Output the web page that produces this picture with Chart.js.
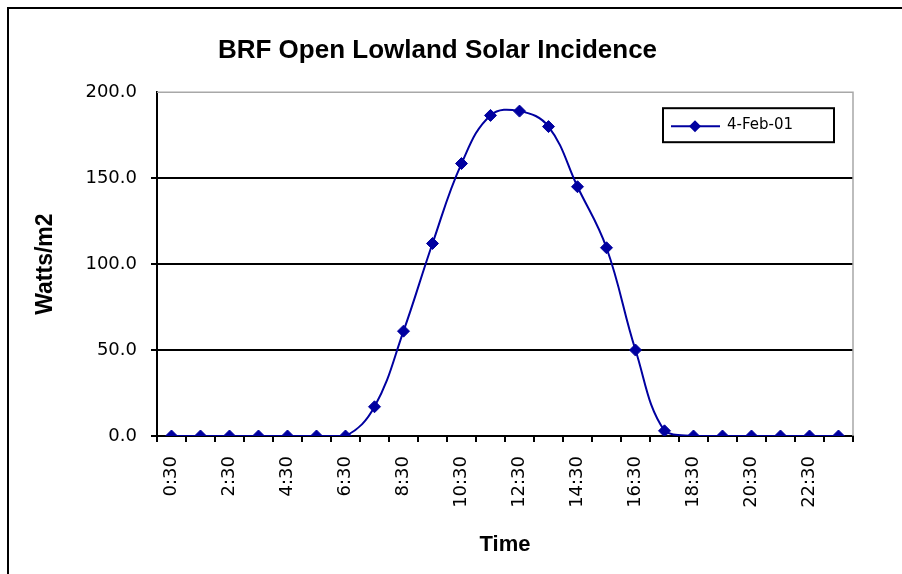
<!DOCTYPE html>
<html>
<head>
<meta charset="utf-8">
<script src="https://cdn.jsdelivr.net/npm/chart.js@4/dist/chart.umd.min.js"></script>
<style>
html,body{margin:0;padding:0;background:#fff;}
#wrap{width:902px;height:574px;}
</style>
</head>
<body>
<div id="wrap"><canvas id="c" width="902" height="574"></canvas></div>
<script>
const categories = ["0:30","1:30","2:30","3:30","4:30","5:30","6:30","7:30","8:30","9:30","10:30","11:30",
  "12:30","13:30","14:30","15:30","16:30","17:30","18:30","19:30","20:30","21:30","22:30","23:30"];
const seriesName = "4-Feb-01";
const seriesValues = [0,0,0,0,0,0,0,17,61,112,158.5,186.5,189,180,145,109.5,50,3,0,0,0,0,0,0];
const yTicks = [0,50,100,150,200];
const chartTitle = "BRF Open Lowland Solar Incidence";
const xTitle = "Time";
const yTitle = "Watts/m2";

const LINE = '#0000a0';

const framePlugin = {
  id: 'frame',
  beforeDatasetsDraw(chart) {
    const {ctx, chartArea: a} = chart;
    ctx.save();
    ctx.strokeStyle = '#a8a8a8';
    ctx.lineWidth = 1.5;
    ctx.beginPath();
    ctx.moveTo(a.left, a.top);
    ctx.lineTo(a.right, a.top);
    ctx.lineTo(a.right, a.bottom);
    ctx.stroke();
    ctx.restore();
  },
  afterDraw(chart) {
    const {ctx, chartArea: a} = chart;
    ctx.save();
    // outer border (top and left)
    ctx.strokeStyle = '#000';
    ctx.lineWidth = 2;
    ctx.beginPath();
    ctx.moveTo(8, chart.height);
    ctx.lineTo(8, 8);
    ctx.lineTo(chart.width, 8);
    ctx.stroke();
    // legend box
    const ds = chart.data.datasets[0];
    const bw = 171, bh = 34;
    const bx = a.right - 19 - bw, by = a.top + 16;
    ctx.fillStyle = '#fff';
    ctx.fillRect(bx, by, bw, bh);
    ctx.strokeStyle = '#000';
    ctx.lineWidth = 2;
    ctx.strokeRect(bx, by, bw, bh);
    const my = by + bh / 2 + 1;
    ctx.strokeStyle = ds.borderColor;
    ctx.lineWidth = 2;
    ctx.beginPath();
    ctx.moveTo(bx + 8, my);
    ctx.lineTo(bx + 57, my);
    ctx.stroke();
    ctx.fillStyle = ds.pointBackgroundColor;
    ctx.beginPath();
    ctx.moveTo(bx + 32, my - 6);
    ctx.lineTo(bx + 38, my);
    ctx.lineTo(bx + 32, my + 6);
    ctx.lineTo(bx + 26, my);
    ctx.closePath();
    ctx.fill();
    ctx.fillStyle = '#000';
    ctx.font = '15px "DejaVu Sans"';
    ctx.textBaseline = 'middle';
    ctx.textAlign = 'left';
    ctx.fillText(ds.label, bx + 64, my - 1);
    ctx.restore();
  }
};

new Chart(document.getElementById('c'), {
  type: 'line',
  data: {
    labels: categories,
    datasets: [{
      label: seriesName,
      data: seriesValues,
      borderColor: LINE,
      backgroundColor: LINE,
      pointBackgroundColor: LINE,
      pointBorderColor: LINE,
      borderWidth: 2,
      pointStyle: 'rectRot',
      pointRadius: 6,
      pointBorderWidth: 1,
      tension: 0.4,
      fill: false
    }]
  },
  options: {
    responsive: false,
    animation: false,
    devicePixelRatio: 1,
    layout: { padding: { left: 22, right: 49, top: 0, bottom: 16 } },
    plugins: {
      legend: { display: false },
      tooltip: { enabled: false },
      title: {
        display: true,
        text: chartTitle,
        color: '#000',
        font: { family: '"Liberation Sans", Arial', size: 26, weight: 'bold' },
        padding: { top: 35, bottom: 26 }
      }
    },
    scales: {
      x: {
        type: 'category',
        offset: true,
        afterFit(s) { s.height = 122; },
        border: { display: true, color: '#000', width: 2 },
        grid: { display: true, offset: true, drawOnChartArea: false, drawTicks: true, tickLength: 6, color: '#000', lineWidth: 2 },
        ticks: {
          autoSkip: false,
          maxRotation: 90,
          minRotation: 90,
          padding: 14,
          color: '#000',
          font: { family: '"DejaVu Sans"', size: 18 },
          callback(v, i) { return i % 2 === 0 ? this.getLabelForValue(v) : ''; }
        },
        title: {
          display: true,
          text: xTitle,
          color: '#000',
          font: { family: '"Liberation Sans", Arial', size: 22, weight: 'bold' },
          padding: { top: 10, bottom: 0 }
        }
      },
      y: {
        min: 0,
        max: 200,
        afterFit(s) { s.width = 135; },
        afterBuildTicks(s) { s.ticks = yTicks.map(v => ({ value: v })); },
        border: { display: true, color: '#000', width: 2 },
        grid: {
          drawTicks: true,
          tickLength: 6,
          lineWidth: 2,
          color(ctx) { return ctx.tick && ctx.tick.value === 200 ? 'rgba(0,0,0,0)' : '#000'; }
        },
        ticks: {
          padding: 14,
          color: '#000',
          font: { family: '"DejaVu Sans"', size: 18 },
          callback(v) { return Number(v).toFixed(1); }
        },
        title: {
          display: true,
          text: yTitle,
          color: '#000',
          font: { family: '"Liberation Sans", Arial', size: 23, weight: 'bold' },
          padding: { top: 10, bottom: 0 }
        }
      }
    }
  },
  plugins: [framePlugin]
});
</script>
</body>
</html>
